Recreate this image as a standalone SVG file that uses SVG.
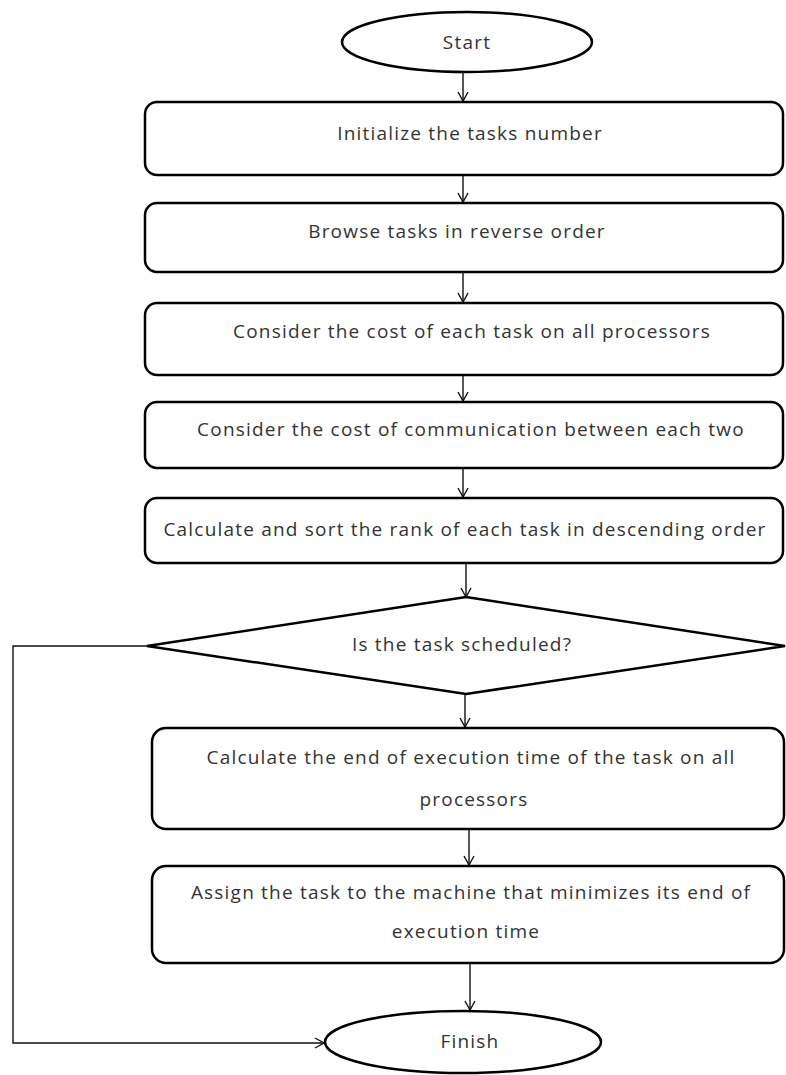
<svg xmlns="http://www.w3.org/2000/svg" width="786" height="1075" viewBox="0 0 786 1075">
<style>
.shape{fill:#fff;stroke:#000;stroke-width:2.5}
.conn{fill:none;stroke:#111;stroke-width:1.4}
text{font-family:"Open Sans","DejaVu Sans",sans-serif;font-size:19px;letter-spacing:1.2px;fill:#333;text-anchor:middle}
</style>
<defs>
<marker id="arr" markerWidth="12" markerHeight="12" refX="10" refY="6" orient="auto" markerUnits="userSpaceOnUse">
<path d="M1,1 L10,6 L1,11" fill="none" stroke="#111" stroke-width="1.4"/>
</marker>
</defs>
<rect width="786" height="1075" fill="#fff"/>
<g id="connectors">
<line class="conn" x1="463" y1="72" x2="463" y2="101" marker-end="url(#arr)"/>
<line class="conn" x1="463" y1="175" x2="463" y2="202" marker-end="url(#arr)"/>
<line class="conn" x1="463" y1="272" x2="463" y2="302" marker-end="url(#arr)"/>
<line class="conn" x1="463" y1="375" x2="463" y2="401" marker-end="url(#arr)"/>
<line class="conn" x1="463" y1="468" x2="463" y2="497" marker-end="url(#arr)"/>
<line class="conn" x1="466" y1="563" x2="466" y2="597" marker-end="url(#arr)"/>
<line class="conn" x1="465" y1="694" x2="465" y2="727" marker-end="url(#arr)"/>
<line class="conn" x1="469" y1="829" x2="469" y2="865" marker-end="url(#arr)"/>
<line class="conn" x1="470" y1="963" x2="470" y2="1010" marker-end="url(#arr)"/>
<polyline class="conn" points="147,646 13,646 13,1043 324,1043" marker-end="url(#arr)"/>
</g>
<g id="start">
<ellipse class="shape" cx="467" cy="42" rx="125" ry="30"/>
<text x="467" y="49">Start</text>
</g>
<g id="init">
<rect class="shape" x="145" y="102" width="638" height="73" rx="12"/>
<text x="470" y="140">Initialize the tasks number</text>
</g>
<g id="browse">
<rect class="shape" x="145" y="203" width="638" height="69" rx="12"/>
<text x="457" y="238">Browse tasks in reverse order</text>
</g>
<g id="cost">
<rect class="shape" x="145" y="303" width="638" height="72" rx="12"/>
<text x="472" y="338">Consider the cost of each task on all processors</text>
</g>
<g id="comm">
<rect class="shape" x="145" y="402" width="638" height="66" rx="12"/>
<text x="471" y="436">Consider the cost of communication between each two</text>
</g>
<g id="rank">
<rect class="shape" x="145" y="498" width="638" height="65" rx="12"/>
<text x="465" y="536">Calculate and sort the rank of each task in descending order</text>
</g>
<g id="decision">
<polygon class="shape" points="466,597 785,646 466,694 147,646"/>
<text x="462" y="651">Is the task scheduled?</text>
</g>
<g id="endtime">
<rect class="shape" x="152" y="728" width="632" height="101" rx="14"/>
<text x="471" y="764">Calculate the end of execution time of the task on all</text>
<text x="474" y="806">processors</text>
</g>
<g id="assign">
<rect class="shape" x="152" y="866" width="632" height="97" rx="14"/>
<text x="471" y="899">Assign the task to the machine that minimizes its end of</text>
<text x="466" y="938">execution time</text>
</g>
<g id="finish">
<ellipse class="shape" cx="463" cy="1042" rx="138" ry="31"/>
<text x="470" y="1048">Finish</text>
</g>
</svg>
